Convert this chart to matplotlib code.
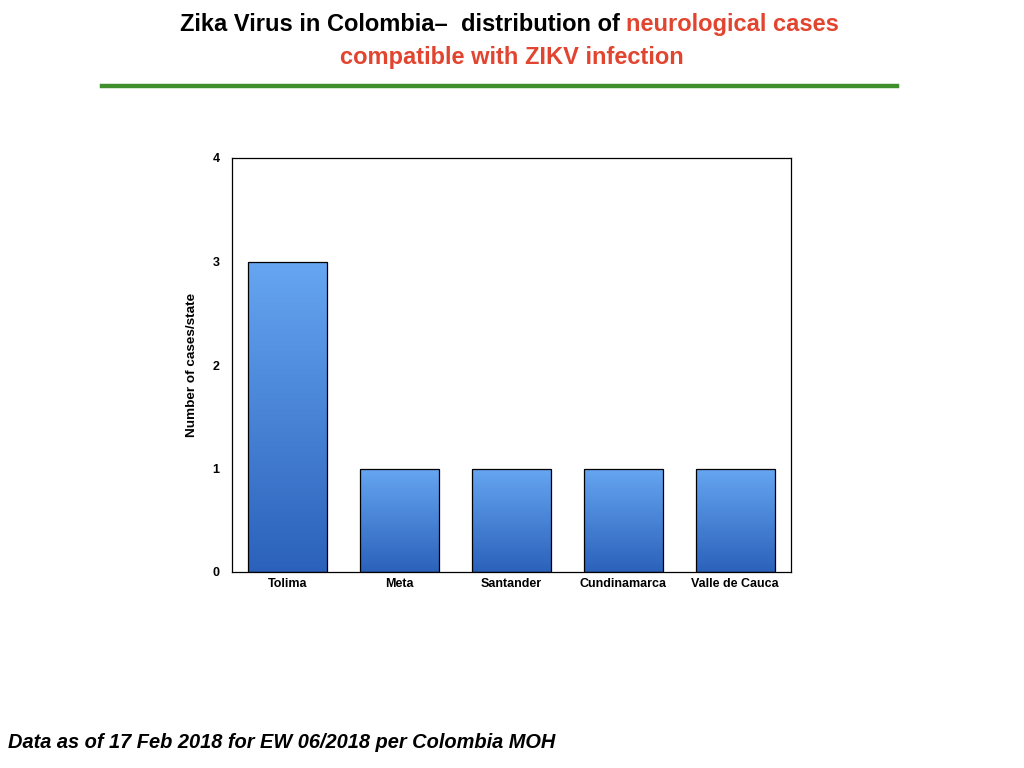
import matplotlib
matplotlib.use("Agg")
import matplotlib.pyplot as plt
import numpy as np
from matplotlib.colors import LinearSegmentedColormap

# data
states = ["Tolima", "Meta", "Santander", "Cundinamarca", "Valle de Cauca"]
cases = [3, 1, 1, 1, 1]
yticks = [0, 1, 2, 3, 4]

plt.rcParams["font.family"] = ["Liberation Sans", "DejaVu Sans"]

RED = "#e2452f"
GREEN = "#3f8f2f"

fig = plt.figure(figsize=(10.24, 7.68), dpi=100)
ax = fig.add_axes([232 / 1024, 1 - 572 / 768, 559 / 1024, 414 / 768])

# bars with a light-to-dark blue vertical gradient
grad = LinearSegmentedColormap.from_list("bluegrad", ["#2b61ba", "#66a6f2"])
x = np.arange(len(states))
bars = ax.bar(x, cases, width=0.705, color="none", edgecolor="black", linewidth=0.9, zorder=3)
ramp = np.linspace(0, 1, 256).reshape(-1, 1)
for b in bars:
    x0, y0 = b.get_x(), b.get_y()
    w, h = b.get_width(), b.get_height()
    im = ax.imshow(ramp, cmap=grad, origin="lower", aspect="auto",
                   extent=[x0, x0 + w, y0, y0 + h], zorder=2)
    im.set_clip_path(b)

ax.set_xlim(-0.5, len(states) - 0.5)
ax.set_ylim(0, 4)
ax.set_xticks(x)
ax.set_xticklabels(states, fontsize=9, fontweight="bold")
ax.set_yticks(yticks)
ax.set_yticklabels([str(t) for t in yticks], fontsize=9, fontweight="bold")
ax.tick_params(axis="x", length=0, pad=4.5)
ax.tick_params(axis="y", length=0, pad=9)
ax.set_ylabel("Number of cases/state", fontsize=9.7, fontweight="bold")
ax.yaxis.set_label_coords((198 - 232) / 559, 0.5)
for s in ax.spines.values():
    s.set_linewidth(0.9)

# title, mixed colours on the first line
t1 = fig.text(180 / 1024, 1 - 31 / 768, "Zika Virus in Colombia\u2013  distribution of ",
              fontsize=17, fontweight="bold", color="black", ha="left", va="baseline")
fig.canvas.draw()
ext = t1.get_window_extent()
fig.text(ext.x1 / 1024, 1 - 31 / 768, "neurological cases", fontsize=17,
         fontweight="bold", color=RED, ha="left", va="baseline")
fig.text(512 / 1024, 1 - 64 / 768, "compatible with ZIKV infection", fontsize=17,
         fontweight="bold", color=RED, ha="center", va="baseline")

# green rule under the title
fig.add_artist(plt.Line2D([102 / 1024, 897 / 1024], [1 - 86 / 768, 1 - 86 / 768],
                          color=GREEN, linewidth=3.2, transform=fig.transFigure))

fig.text(8 / 1024, 1 - 743 / 768, "Data as of 17 Feb 2018 for EW 06/2018 per Colombia MOH",
         fontsize=14.4, fontweight="bold", fontstyle="italic", ha="left", va="center")

fig.savefig("out.png", dpi=100)
